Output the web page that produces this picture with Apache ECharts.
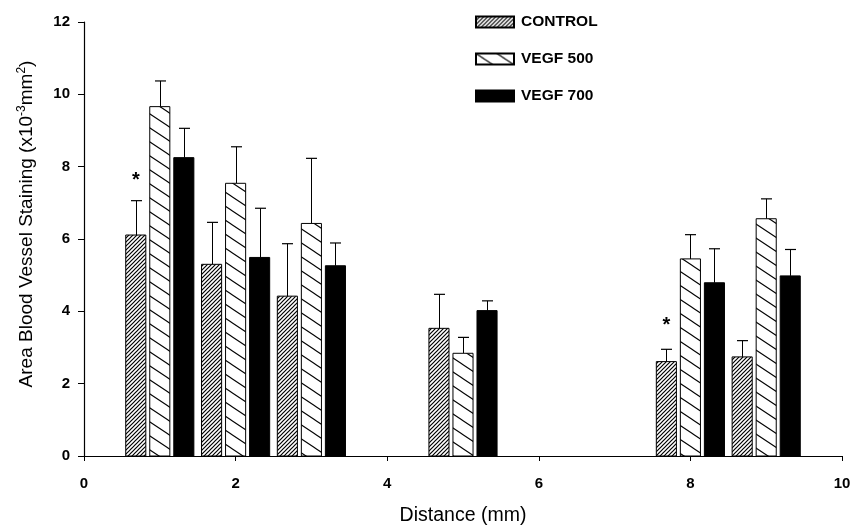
<!DOCTYPE html>
<html>
<head>
<meta charset="utf-8">
<script src="https://cdn.jsdelivr.net/npm/echarts@6/dist/echarts.min.js"></script>
<style>
  html, body { margin: 0; padding: 0; background: #fff; }
  #chart { width: 855px; height: 532px; }
</style>
</head>
<body>
<div id="chart"></div>
<script>
// distance (mm) of each group
var distances = [1, 2, 3, 5, 8, 9];

// mean values (x10^-3 mm^2)
var control  = [6.11, 5.30, 4.42, 3.53, 2.61, 2.74];
var vegf500  = [9.66, 7.54, 6.43, 2.84, 5.45, 6.56];
var vegf700  = [8.25, 5.49, 5.26, 4.02, 4.79, 4.98];

// upper error bar length
var controlErr = [0.95, 1.16, 1.45, 0.94, 0.34, 0.45];
var vegf500Err = [0.71, 1.01, 1.80, 0.44, 0.67, 0.55];
var vegf700Err = [0.81, 1.36, 0.63, 0.27, 0.94, 0.73];

// significance stars (over control bars)
var starDist = [1, 8];
var starVal = [7.72, 3.73];

var xTicks = [0, 2, 4, 6, 8, 10];
var yTicks = [0, 2, 4, 6, 8, 10, 12];

var seriesNames = ['CONTROL', 'VEGF 500', 'VEGF 700'];

var FONT = 'Liberation Sans, Arial, Helvetica, sans-serif';
var BAR_W = 0.265;
var OFFSETS = [-0.317, 0, 0.317];

function hatch(w, h, dir, lw) {
    var c = document.createElement('canvas');
    c.width = w; c.height = h;
    var ctx = c.getContext('2d');
    ctx.fillStyle = '#fff';
    ctx.fillRect(0, 0, w, h);
    ctx.strokeStyle = '#000';
    ctx.lineWidth = lw;
    ctx.beginPath();
    for (var k = -1; k <= 1; k++) {
        if (dir > 0) { // "/"
            ctx.moveTo(-w + k * w, 2 * h);
            ctx.lineTo(2 * w + k * w, -h);
        } else { // "\"
            ctx.moveTo(-w + k * w, -h);
            ctx.lineTo(2 * w + k * w, 2 * h);
        }
    }
    ctx.stroke();
    return c;
}

var colors = [
    { image: hatch(4, 4, 1, 1.2), repeat: 'repeat' },
    { image: hatch(21, 14, -1, 1.1), repeat: 'repeat' },
    '#000'
];

function pairs(vals) {
    return distances.map(function (d, i) { return [d, vals[i]]; });
}

function barSeries(idx, vals) {
    return {
        type: 'custom',
        name: seriesNames[idx],
        data: pairs(vals),
        itemStyle: { color: colors[idx], borderColor: '#000', borderWidth: 1 },
        renderItem: function (params, api) {
            var x = api.value(0) + OFFSETS[idx];
            var p0 = api.coord([x, 0]);
            var p1 = api.coord([x, api.value(1)]);
            var w = api.size([BAR_W, 0])[0];
            return {
                type: 'rect',
                shape: { x: p0[0] - w / 2, y: p1[1], width: w, height: p0[1] - p1[1] },
                style: api.style({ stroke: '#000', lineWidth: 1 })
            };
        }
    };
}

function errSeries(idx, vals, errs) {
    return {
        type: 'custom',
        name: seriesNames[idx] + ' err',
        data: distances.map(function (d, i) { return [d, vals[i], vals[i] + errs[i]]; }),
        z: 1,
        renderItem: function (params, api) {
            var x = api.value(0) + OFFSETS[idx];
            var a = api.coord([x, api.value(1)]);
            var b = api.coord([x, api.value(2)]);
            var cx = Math.round(a[0]) + 0.5;
            return {
                type: 'group',
                children: [
                    { type: 'line', shape: { x1: cx, y1: a[1], x2: cx, y2: b[1] }, style: { stroke: '#000', lineWidth: 1 } },
                    { type: 'line', shape: { x1: cx - 5.5, y1: b[1], x2: cx + 5.5, y2: b[1] }, style: { stroke: '#000', lineWidth: 1.2 } }
                ]
            };
        }
    };
}

var chart = echarts.init(document.getElementById('chart'));
chart.setOption({
    animation: false,
    backgroundColor: '#fff',
    grid: { left: 84, right: 13, top: 22, bottom: 76 },
    legend: {
        data: seriesNames,
        orient: 'vertical',
        left: 470,
        top: 9,
        icon: 'rect',
        itemWidth: 38,
        itemHeight: 11,
        itemGap: 21,
        selectedMode: false,
        textStyle: { fontFamily: FONT, fontWeight: 'bold', fontSize: 15.5, color: '#000', lineHeight: 16, padding: [0, 0, 0, 2] }
    },
    xAxis: {
        type: 'value',
        min: 0, max: 10, interval: 2,
        name: 'Distance (mm)',
        nameLocation: 'middle',
        nameGap: 50,
        nameTextStyle: { fontFamily: FONT, fontSize: 19.5, color: '#000' },
        splitLine: { show: false },
        axisLine: { lineStyle: { color: '#000', width: 1.2 } },
        axisTick: { length: 5, lineStyle: { color: '#000' } },
        axisLabel: {
            margin: 20, fontFamily: FONT, fontWeight: 'bold', fontSize: 15, color: '#000',
            formatter: function (v) { return xTicks.indexOf(v) >= 0 ? String(v) : ''; }
        }
    },
    yAxis: {
        type: 'value',
        min: 0, max: 12, interval: 2,
        name: 'Area Blood Vessel Staining (x10{sup|-3}mm{sup|2})',
        nameLocation: 'middle',
        nameRotate: 90,
        nameGap: 47,
        nameTextStyle: {
            fontFamily: FONT, fontSize: 19, color: '#000',
            padding: [0, 0, 0, 30],
            rich: { sup: { fontFamily: FONT, fontSize: 12, color: '#000', verticalAlign: 'top', padding: [0, 0, 9, 0] } }
        },
        splitLine: { show: false },
        axisLine: { show: true, lineStyle: { color: '#000', width: 1.2 } },
        axisTick: { show: true, length: 6, lineStyle: { color: '#000' } },
        axisLabel: {
            margin: 14, fontFamily: FONT, fontWeight: 'bold', fontSize: 15, color: '#000',
            formatter: function (v) { return yTicks.indexOf(v) >= 0 ? String(v) : ''; }
        }
    },
    series: [
        barSeries(0, control),
        barSeries(1, vegf500),
        barSeries(2, vegf700),
        errSeries(0, control, controlErr),
        errSeries(1, vegf500, vegf500Err),
        errSeries(2, vegf700, vegf700Err),
        {
            type: 'custom',
            name: 'stars',
            data: starDist.map(function (d, i) { return [d, starVal[i]]; }),
            renderItem: function (params, api) {
                var p = api.coord([api.value(0) + OFFSETS[0], api.value(1)]);
                return {
                    type: 'text',
                    x: p[0], y: p[1] + 4,
                    style: { text: '*', fontFamily: FONT, fontWeight: 'bold', fontSize: 20, fill: '#000', align: 'center', verticalAlign: 'middle' }
                };
            }
        }
    ]
});
</script>
</body>
</html>
